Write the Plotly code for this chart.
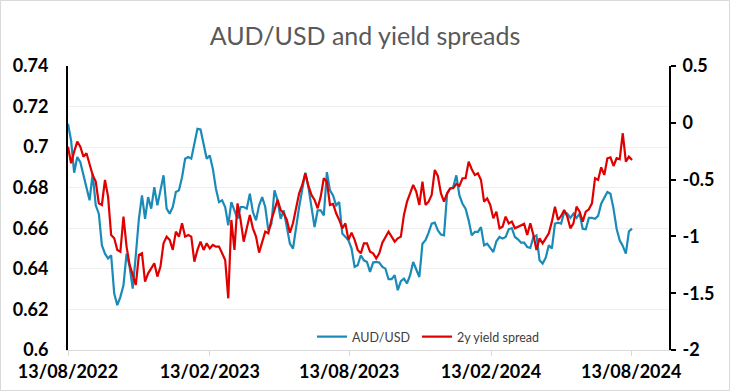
import pandas as pd
import plotly.graph_objects as go

# ---- data (4-day spacing from 13/08/2022) ----
dates = pd.date_range("2022-08-13", periods=184, freq="4D")

aud_usd = [
    0.7115, 0.7033, 0.6874, 0.6951, 0.6926, 0.6861, 0.6795, 0.6738, 0.6869, 0.6713,
    0.6672, 0.6516, 0.6475, 0.6451, 0.6467, 0.6278, 0.6221, 0.6262, 0.6319, 0.6475,
    0.6410, 0.6303, 0.6467, 0.6647, 0.6762, 0.6647, 0.6754, 0.6697, 0.6803, 0.6713,
    0.6787, 0.6861, 0.6697, 0.6672, 0.6705, 0.6779, 0.6787, 0.6852, 0.6943, 0.6951,
    0.6943, 0.7025, 0.7090, 0.7087, 0.7008, 0.6943, 0.6959, 0.6893, 0.6795, 0.6729,
    0.6738, 0.6705, 0.6615, 0.6729, 0.6688, 0.6647, 0.6705, 0.6705, 0.6697, 0.6770,
    0.6680, 0.6639, 0.6713, 0.6754, 0.6705, 0.6590, 0.6623, 0.6787, 0.6738, 0.6647,
    0.6688, 0.6598, 0.6524, 0.6500, 0.6606, 0.6705, 0.6792, 0.6874, 0.6803, 0.6697,
    0.6606, 0.6688, 0.6688, 0.6664, 0.6877, 0.6787, 0.6762, 0.6713, 0.6729, 0.6574,
    0.6557, 0.6541, 0.6500, 0.6410, 0.6418, 0.6467, 0.6442, 0.6434, 0.6385, 0.6431,
    0.6434, 0.6431, 0.6410, 0.6401, 0.6349, 0.6349, 0.6369, 0.6295, 0.6339, 0.6352,
    0.6328, 0.6369, 0.6434, 0.6401, 0.6360, 0.6524, 0.6541, 0.6579, 0.6623, 0.6628,
    0.6590, 0.6569, 0.6565, 0.6770, 0.6795, 0.6803, 0.6861, 0.6762, 0.6721, 0.6697,
    0.6639, 0.6565, 0.6582, 0.6582, 0.6606, 0.6516, 0.6524, 0.6503, 0.6483, 0.6536,
    0.6557, 0.6549, 0.6557, 0.6595, 0.6601, 0.6557, 0.6546, 0.6529, 0.6529, 0.6508,
    0.6503, 0.6557, 0.6565, 0.6442, 0.6426, 0.6455, 0.6516, 0.6500, 0.6623, 0.6628,
    0.6623, 0.6680, 0.6672, 0.6651, 0.6672, 0.6651, 0.6672, 0.6598, 0.6595, 0.6651,
    0.6651, 0.6647, 0.6661, 0.6721, 0.6754, 0.6779, 0.6770, 0.6697, 0.6598, 0.6541,
    0.6513, 0.6475, 0.6585, 0.6598,
]

yield_spread_2y = [
    -0.210, -0.356, -0.254, -0.166, -0.210, -0.298, -0.268, -0.356, -0.459, -0.518,
    -0.709, -0.723, -0.503, -0.650, -0.987, -1.017, -1.119, -1.134, -0.826, -1.090,
    -1.251, -1.339, -1.427, -1.163, -1.149, -1.398, -1.325, -1.281, -1.237, -1.354,
    -1.266, -1.061, -1.002, -1.031, -1.119, -0.958, -1.002, -0.885, -1.002, -0.987,
    -1.002, -1.222, -1.119, -1.046, -1.119, -1.061, -1.105, -1.075, -1.090, -1.090,
    -1.149, -1.207, -1.545, -0.855, -1.119, -0.709, -0.855, -1.046, -0.929, -0.811,
    -0.929, -1.002, -1.143, -1.046, -0.958, -0.973, -0.855, -0.767, -0.679, -0.767,
    -0.797, -0.855, -0.967, -0.885, -0.767, -0.621, -0.547, -0.444, -0.556, -0.635,
    -0.679, -0.753, -0.650, -0.488, -0.518, -0.723, -0.714, -0.797, -0.855, -0.929,
    -0.885, -1.031, -0.967, -1.030, -1.119, -1.149, -1.061, -1.061, -1.134, -1.149,
    -1.193, -1.149, -1.055, -1.002, -0.958, -1.002, -1.046, -1.017, -1.002, -0.811,
    -0.694, -0.621, -0.547, -0.606, -0.723, -0.518, -0.723, -0.694, -0.635, -0.415,
    -0.468, -0.621, -0.694, -0.621, -0.576, -0.576, -0.538, -0.556, -0.488, -0.488,
    -0.342, -0.409, -0.459, -0.444, -0.503, -0.694, -0.665, -0.723, -0.841, -0.782,
    -0.929, -0.914, -0.826, -0.885, -0.870, -0.929, -0.914, -0.899, -0.890, -0.987,
    -0.885, -0.987, -1.119, -1.017, -1.061, -1.017, -0.973, -0.870, -0.738, -0.855,
    -0.820, -0.767, -0.826, -0.929, -0.885, -0.738, -0.782, -0.870, -0.782, -0.761,
    -0.709, -0.488, -0.503, -0.392, -0.459, -0.312, -0.304, -0.380, -0.312, -0.321,
    -0.092, -0.342, -0.298, -0.327,
]

x_tick_dates = ["2022-08-13", "2023-02-13", "2023-08-13", "2024-02-13", "2024-08-13"]
x_tick_labels = ["13/08/2022", "13/02/2023", "13/08/2023", "13/02/2024", "13/08/2024"]
left_ticks = [0.6, 0.62, 0.64, 0.66, 0.68, 0.7, 0.72, 0.74]
left_labels = ["0.6", "0.62", "0.64", "0.66", "0.68", "0.7", "0.72", "0.74"]
right_ticks = [-2, -1.5, -1, -0.5, 0, 0.5]
right_labels = ["-2", "-1.5", "-1", "-0.5", "0", "0.5"]

FONT = "Lato"
tick_font = dict(family=FONT, size=18, color="#000000", weight="bold")
legend_font = dict(family=FONT, size=12.5, color="#404040")

fig = go.Figure()
fig.add_trace(go.Scatter(
    x=dates, y=aud_usd, name="AUD/USD", mode="lines", showlegend=True,
    line=dict(color="#1a8ab8", width=2.2), legend="legend",
))
fig.add_trace(go.Scatter(
    x=dates, y=yield_spread_2y, name="2y yield spread", mode="lines", yaxis="y2",
    showlegend=True, line=dict(color="#e00000", width=2.2), legend="legend2",
))

fig.update_layout(
    template="none",
    width=730, height=391,
    showlegend=True,
    margin=dict(l=68, r=61, t=66, b=41, autoexpand=False),
    paper_bgcolor="white", plot_bgcolor="white",
    title=dict(text="AUD/USD and yield spreads", x=0.5, xref="container", xanchor="center",
               y=1 - 36 / 391, yref="container", yanchor="middle",
               font=dict(family=FONT, size=25, color="#595959")),
    xaxis=dict(
        type="date", range=["2022-08-13", "2024-10-01"], automargin=False,
        tickvals=x_tick_dates, ticktext=x_tick_labels, tickfont=tick_font,
        ticks="outside", ticklen=5, tickcolor="#d9d9d9", tickwidth=1,
        showline=True, linecolor="#d9d9d9", linewidth=1, showgrid=False, zeroline=False,
    ),
    yaxis=dict(
        range=[0.6, 0.74], tickvals=left_ticks, ticktext=left_labels, tickfont=tick_font,
        showgrid=True, gridcolor="#efefef", gridwidth=1, zeroline=False, automargin=False,
        showline=True, linecolor="#000000", linewidth=2, ticks="", ticklabelstandoff=14,
    ),
    yaxis2=dict(
        overlaying="y", side="right", range=[-2, 0.5], tickvals=right_ticks,
        ticktext=right_labels, tickfont=tick_font, showgrid=False, zeroline=False,
        showline=True, linecolor="#000000", linewidth=2, automargin=False,
        ticks="outside", ticklen=5, tickwidth=2, tickcolor="#000000", ticklabelstandoff=3,
    ),
    legend=dict(x=(312 - 68) / 601, y=(350 - 337) / 284, xanchor="left", yanchor="middle",
                orientation="h", itemwidth=30, bgcolor="rgba(0,0,0,0)", borderwidth=0,
                font=legend_font),
    legend2=dict(x=(417 - 68) / 601, y=(350 - 337) / 284, xanchor="left", yanchor="middle",
                 orientation="h", itemwidth=30, bgcolor="rgba(0,0,0,0)", borderwidth=0,
                 font=legend_font),
    shapes=[dict(type="rect", xref="paper", yref="paper",
                 x0=(0.5 - 68) / 601, x1=(729.5 - 68) / 601,
                 y0=(350 - 390.5) / 284, y1=(350 - 0.5) / 284,
                 line=dict(color="#d9d9d9", width=1), layer="below")],
)

fig.write_html("out.html", config={"displayModeBar": False},
               post_script="document.body.style.margin='0';document.body.style.overflow='hidden';")
